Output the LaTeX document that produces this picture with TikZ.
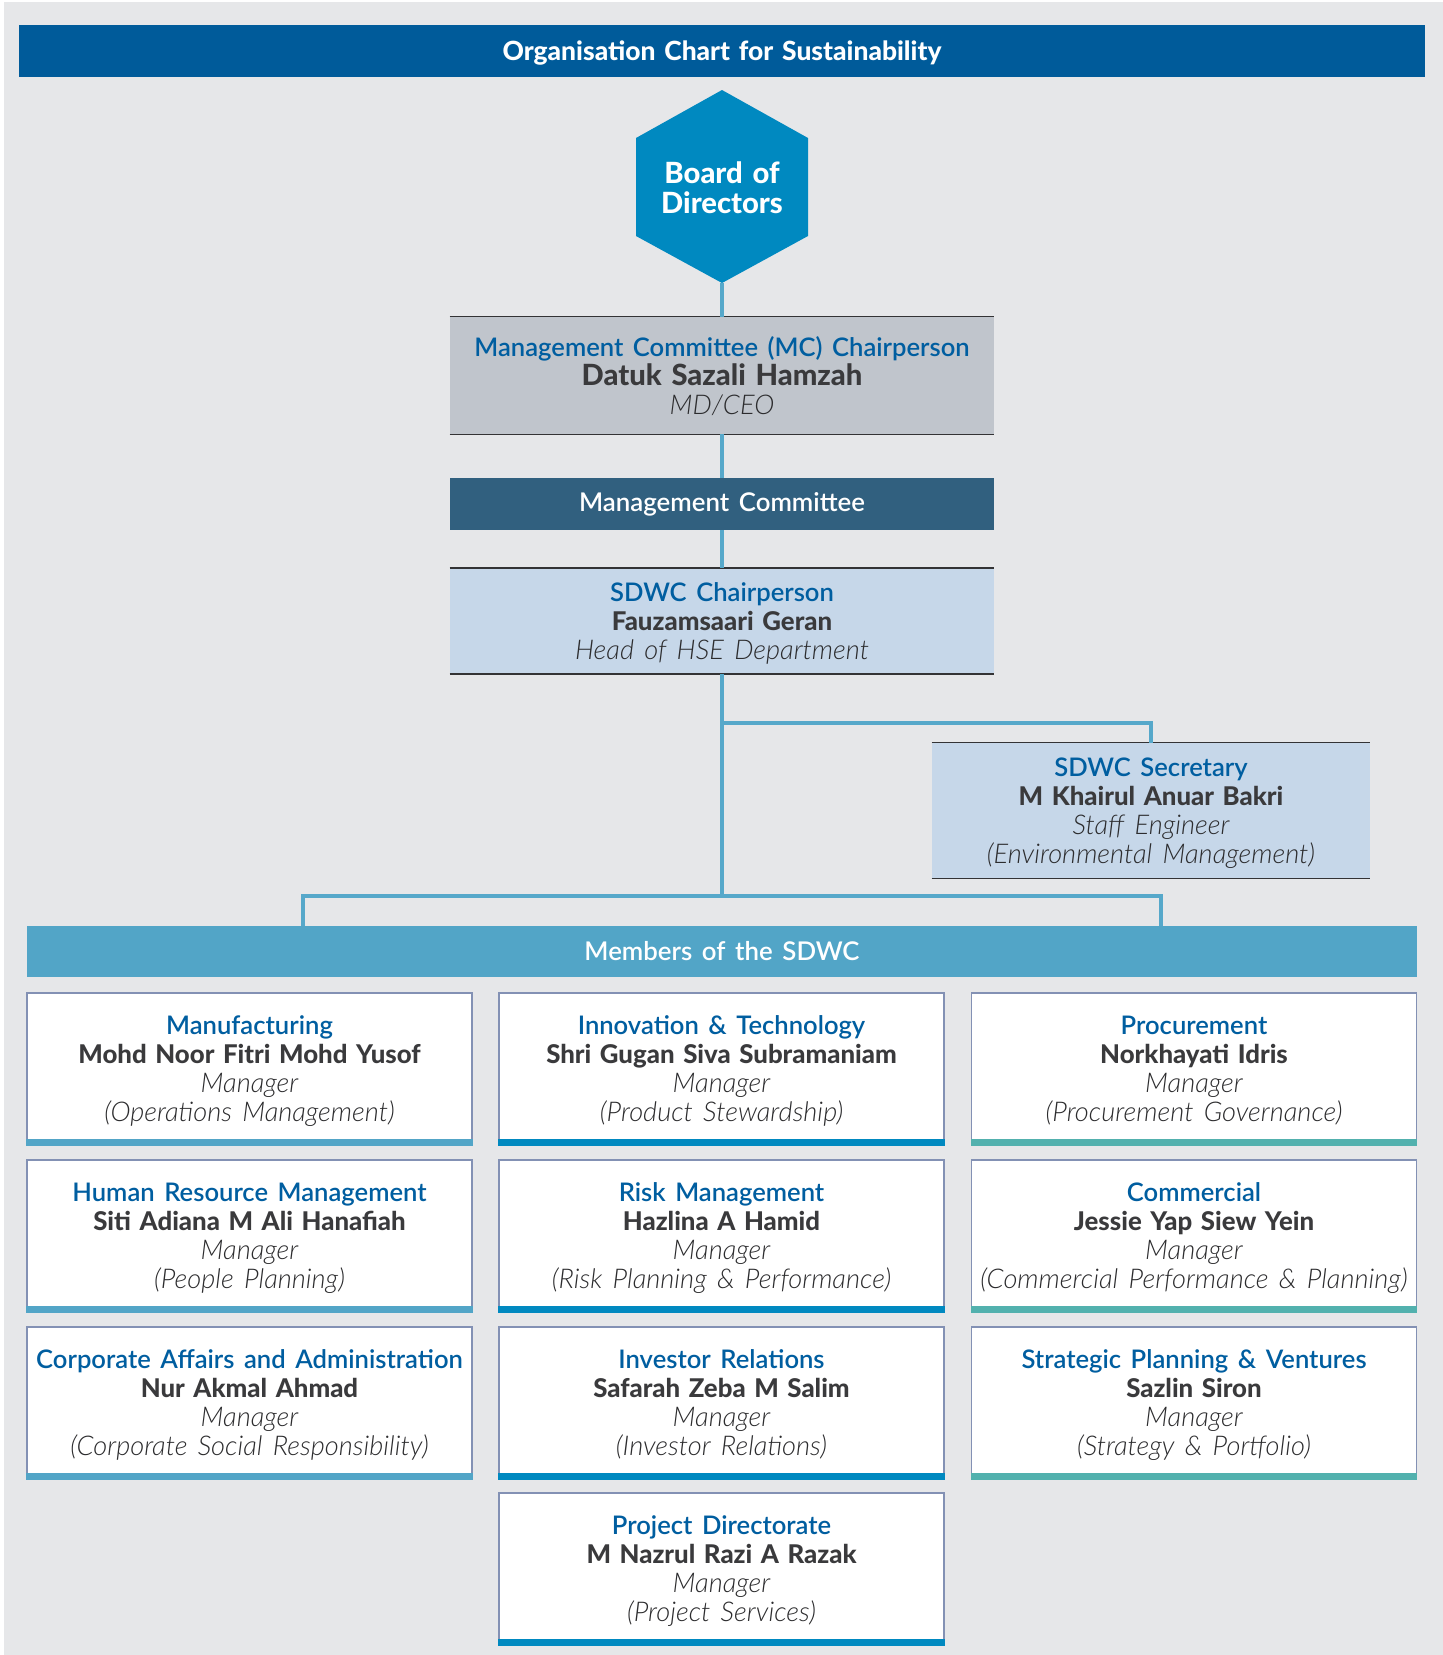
\documentclass[tikz,border=0pt]{standalone}
\usepackage{fontspec}
\setmainfont{Lato}[WordSpace=1.5]
\newfontfamily\unitfont{Lato Semibold}[WordSpace=1.5]
\newfontfamily\namefont{Lato Heavy}[WordSpace=1.4]
\newfontfamily\postfont{Lato Light Italic}[WordSpace=1.5]
\usetikzlibrary{positioning, calc}

\definecolor{pagegray}{HTML}{E6E7E9}
\definecolor{headblue}{HTML}{005B9A}
\definecolor{hexblue}{HTML}{0089C0}
\definecolor{linkblue}{HTML}{56A8CA}
\definecolor{mcgray}{HTML}{C0C5CC}
\definecolor{mcslate}{HTML}{31607F}
\definecolor{sdwcblue}{HTML}{C6D7E9}
\definecolor{bandblue}{HTML}{52A5C7}
\definecolor{unitblue}{HTML}{005EA0}
\definecolor{namegray}{HTML}{3A3A3C}
\definecolor{postgray}{HTML}{2C2C2E}
\definecolor{rulegray}{HTML}{333335}
\definecolor{frameblue}{HTML}{8391B4}
\definecolor{barA}{HTML}{52A5C7}
\definecolor{barB}{HTML}{0089C0}
\definecolor{barC}{HTML}{52B1AE}

\newcommand\orgunit[1]{{\unitfont\fontsize{12.8}{14.5}\selectfont\color{unitblue}#1}}
\newcommand\orgname[1]{{\namefont\fontsize{12.9}{14.5}\selectfont\color{namegray}#1}}
\newcommand\orgpost[1]{{\postfont\fontsize{13.6}{14.5}\selectfont\color{postgray}#1}}

\begin{document}
\begin{tikzpicture}[
		% pixel grid of the page, y running down
		x=0.5pt, y=-0.5pt,
		link/.style={draw=linkblue, line width=2.2pt},
		rule/.style={draw=rulegray, line width=0.7pt},
		txt/.style={align=center, inner sep=0pt, font=\fontsize{12}{14.5}\selectfont},
		boxtxt/.style={txt, text depth=0pt},
		chairbox/.style={boxtxt, minimum width=272pt},
		memberbox/.style={boxtxt, fill=white, draw=frameblue, line width=0.6pt, minimum width=222.5pt, minimum height=76pt},
		bandbox/.style={txt, text=white, font=\fontsize{12.9}{14}\selectfont\unitfont, minimum height=25.5pt}
		]
		
		% --- 0. PAGE ---
		\useasboundingbox (0,0) rectangle (1443,1655);
		\fill[white] (0,0) rectangle (1443,1655);
		\fill[pagegray] (4,2) rectangle (1443,1655);
		
		% --- 1. TITLE BAR ---
		\node[boxtxt, fill=headblue, text=white, font=\fontsize{13.2}{14}\selectfont\namefont, minimum width=703pt, minimum height=26pt] (header) at (722,51) {Organisation Chart for Sustainability};
		
		% --- 2. BOARD (hexagon) ---
		\fill[hexblue] (722,90) -- (808,138) -- (808,236) -- (722,283) -- (636,236) -- (636,138) -- cycle;
		\coordinate (boardfoot) at (722,283);
		\node[txt, text=white, font=\fontsize{14.6}{15}\selectfont\namefont] (board) at (722,188) {Board of\\Directors};
		
		% --- 3. MANAGEMENT ---
		\node[chairbox, fill=mcgray, minimum height=58.5pt] (mcchair) at (722,375.5)
		{\orgunit{Management Committee (MC) Chairperson}\\\orgname{\fontsize{14.6}{14.5}\selectfont Datuk Sazali Hamzah}\\\orgpost{MD/CEO}};
		\draw[rule] (mcchair.north west) -- (mcchair.north east);
		\draw[rule] (mcchair.south west) -- (mcchair.south east);
		
		\node[bandbox, fill=mcslate, minimum width=272pt, minimum height=26pt] (mc) at (722,504) {Management Committee};
		
		% --- 4. SDWC CHAIR AND SECRETARY ---
		\node[chairbox, fill=sdwcblue, minimum height=52.5pt] (sdwcchair) at (722,621)
		{\orgunit{SDWC Chairperson}\\\orgname{Fauzamsaari Geran}\\\orgpost{Head of HSE Department}};
		\draw[rule] (sdwcchair.north west) -- (sdwcchair.north east);
		\draw[rule] (sdwcchair.south west) -- (sdwcchair.south east);
		
		\node[boxtxt, fill=sdwcblue, minimum width=219pt, minimum height=67.5pt] (secretary) at (1151,810.5)
		{\orgunit{SDWC Secretary}\\\orgname{M Khairul Anuar Bakri}\\\orgpost{Staff Engineer}\\\orgpost{(Environmental Management)}};
		\draw[rule] (secretary.north west) -- (secretary.north east);
		\draw[rule] (secretary.south west) -- (secretary.south east);
		
		% --- 5. MEMBERS ---
		\node[bandbox, fill=bandblue, minimum width=695pt] (members) at (722,951.5) {Members of the SDWC};
		
		\foreach \name/\px/\py/\barcol/\unit/\who/\dept in {
			manuf/249.5/1069/barA/Manufacturing/Mohd Noor Fitri Mohd Yusof/{(Operations Management)},
			innov/721.5/1069/barB/Innovation \& Technology/Shri Gugan Siva Subramaniam/{(Product Stewardship)},
			procure/1194/1069/barC/Procurement/Norkhayati Idris/{(Procurement Governance)},
			hrm/249.5/1236/barA/Human Resource Management/Siti Adiana M Ali Hanafiah/{(People Planning)},
			risk/721.5/1236/barB/Risk Management/Hazlina A Hamid/{(Risk Planning \& Performance)},
			commercial/1194/1236/barC/Commercial/Jessie Yap Siew Yein/{(Commercial Performance \& Planning)},
			corpaffairs/249.5/1403/barA/Corporate Affairs and Administration/Nur Akmal Ahmad/{(Corporate Social Responsibility)},
			investor/721.5/1403/barB/Investor Relations/Safarah Zeba M Salim/{(Investor Relations)},
			strategy/1194/1403/barC/Strategic Planning \& Ventures/Sazlin Siron/{(Strategy \& Portfolio)},
			project/721.5/1569/barB/Project Directorate/M Nazrul Razi A Razak/{(Project Services)}} {
			\node[memberbox] (\name) at (\px,\py)
			{\orgunit{\unit}\\\orgname{\who}\\\orgpost{Manager}\\\orgpost{\dept}};
			\fill[\barcol] ([yshift=-0.3pt]\name.south west) rectangle ([yshift=3.5pt]\name.south east);
		}
		
		% --- 6. CONNECTORS ---
		\coordinate (branch) at (722,723);
		\coordinate (split) at (722,896);
		\coordinate (leftdrop) at (303,896);
		\coordinate (rightdrop) at (1161,896);
		
		\draw[link] (boardfoot) -- (mcchair.north);
		\draw[link] (mcchair.south) -- (mc.north);
		\draw[link] (mc.south) -- (sdwcchair.north);
		\draw[link] (sdwcchair.south) -- (split);
		\draw[link] (branch) -| (secretary.north);
		\draw[link] (members.north -| leftdrop) -- (leftdrop) -- (rightdrop) -- (members.north -| rightdrop);
		
	\end{tikzpicture}
\end{document}
